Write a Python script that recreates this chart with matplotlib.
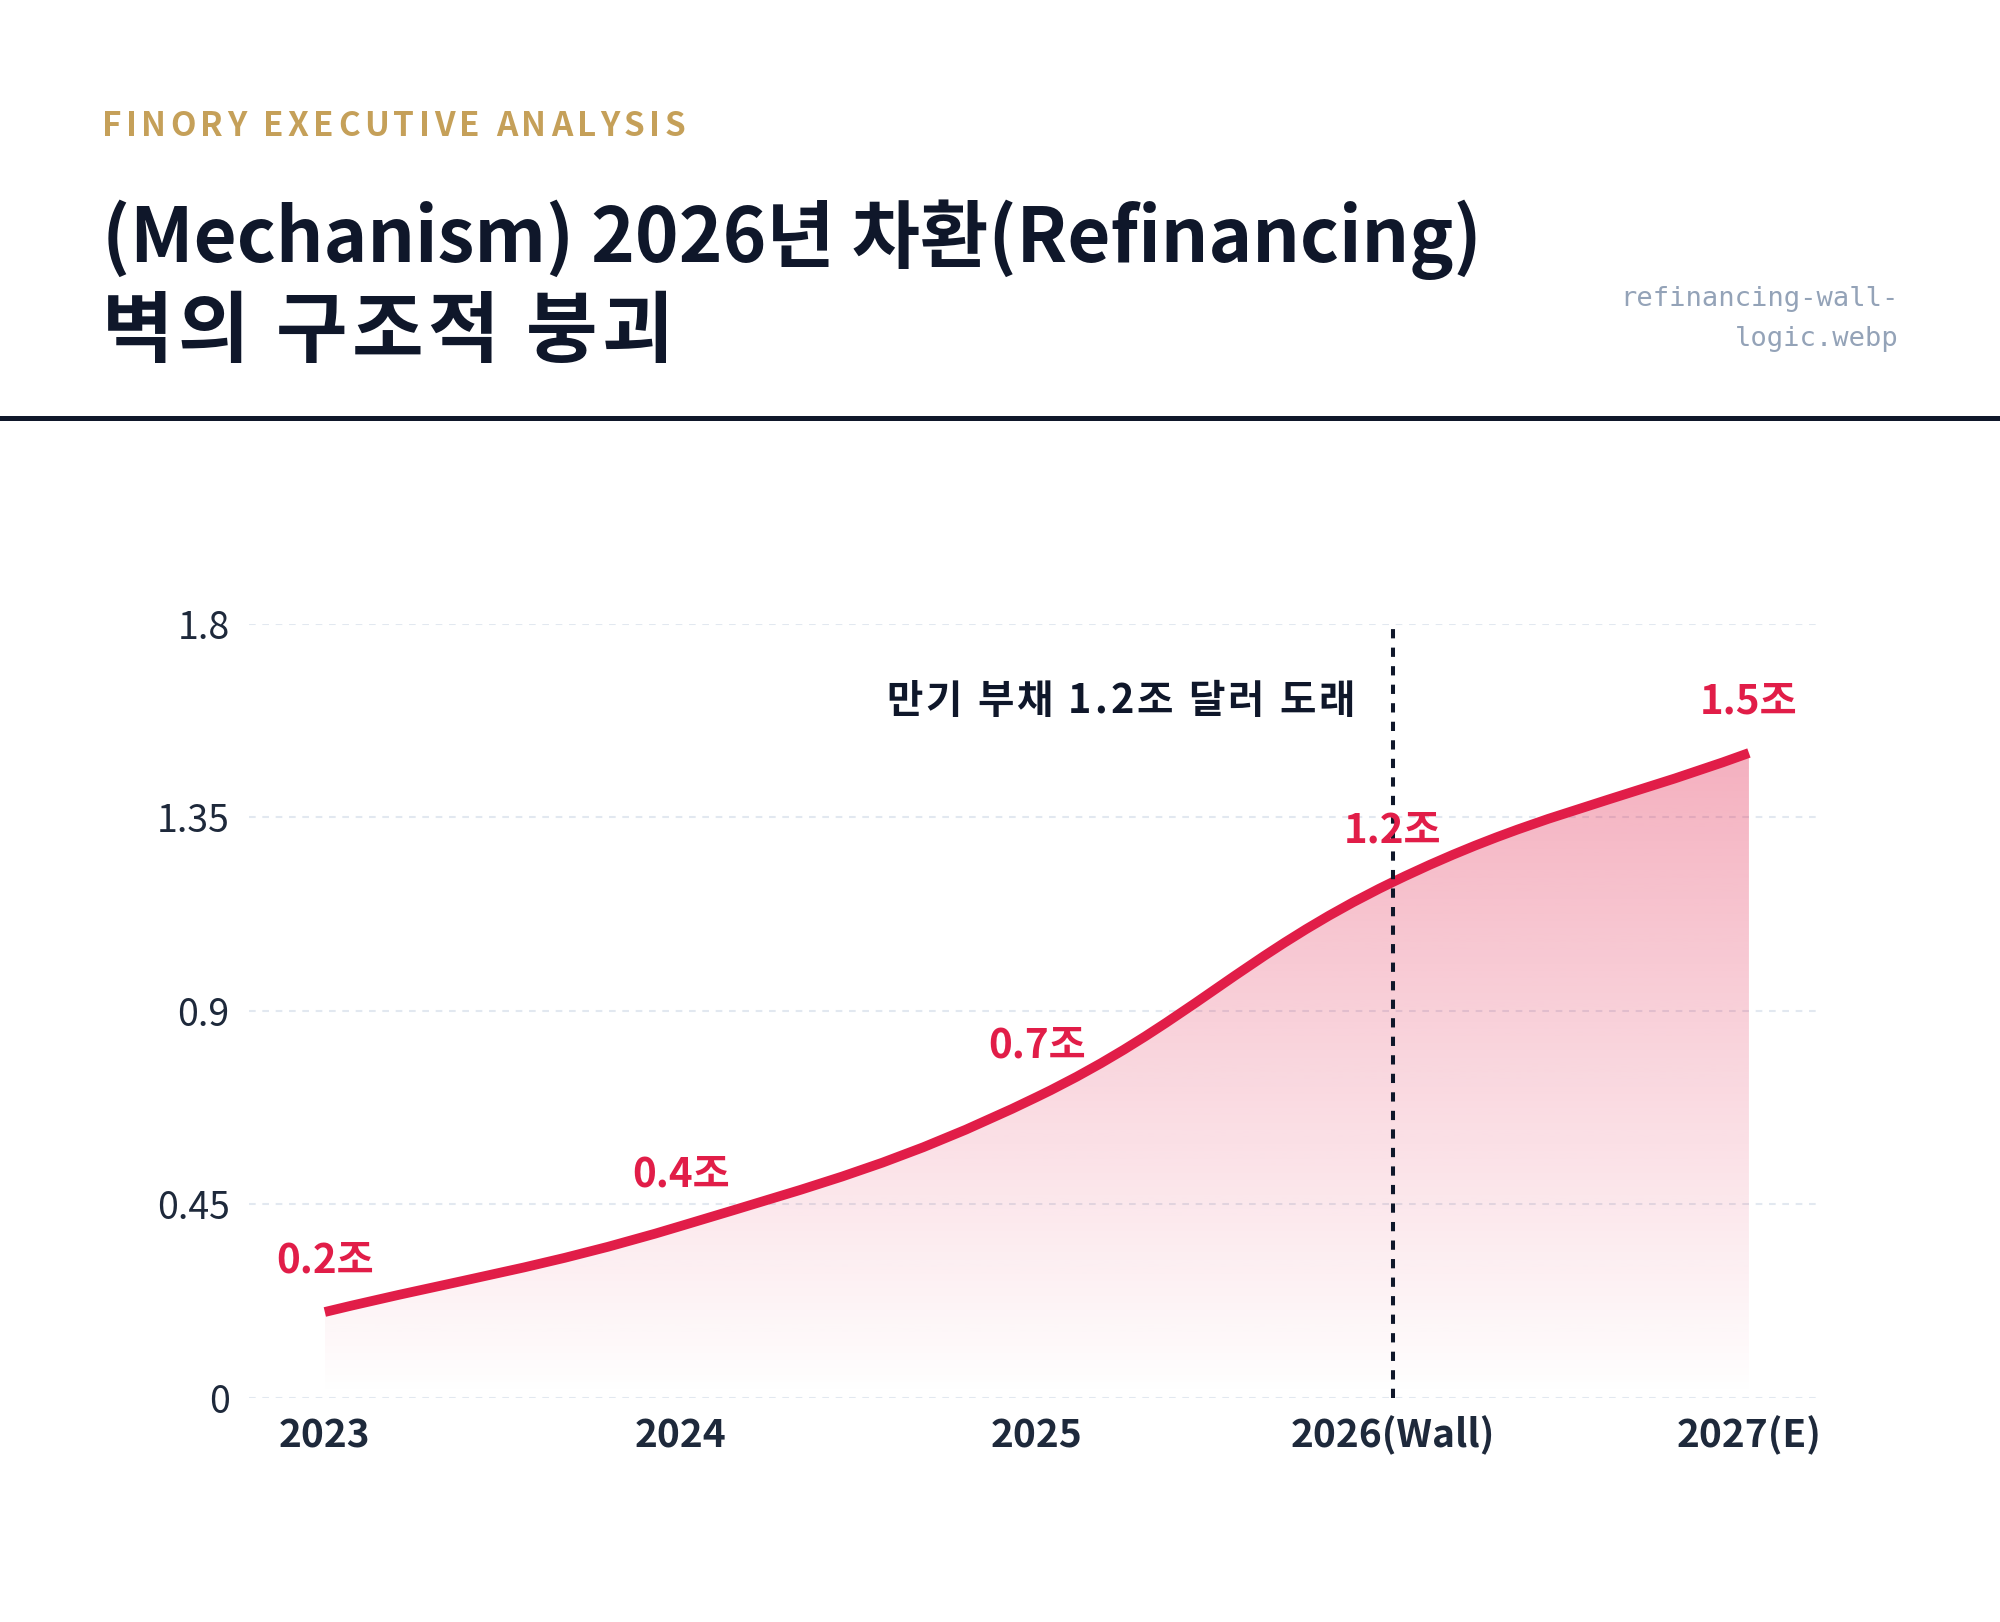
import numpy as np
import matplotlib
matplotlib.use("Agg")
import matplotlib.pyplot as plt
from matplotlib.path import Path
from matplotlib.patches import PathPatch

plt.rcParams['font.family'] = ['Noto Sans CJK KR', 'DejaVu Sans']

# ======== DATA ========
years = ["2023", "2024", "2025", "2026(Wall)", "2027(E)"]
debt = [0.2, 0.4, 0.7, 1.2, 1.5]
point_labels = ["0.2조", "0.4조", "0.7조", "1.2조", "1.5조"]
y_ticks = [0, 0.45, 0.9, 1.35, 1.8]
wall_index = 3
wall_note = "만기 부채 1.2조 달러 도래"

kicker = "FINORY EXECUTIVE ANALYSIS"
title_lines = ["(Mechanism) 2026년 차환(Refinancing)", "벽의 구조적 붕괴"]
file_tag = ["refinancing-wall-", "logic.webp"]

RED = "#E11D48"
NAVY = "#0F172A"
GOLD = "#C5A059"
W, H = 2000, 1622

fig = plt.figure(figsize=(W / 100, H / 100), dpi=100)
fig.patch.set_facecolor("white")
renderer = fig.canvas.get_renderer()


def text_width(s, **kw):
    t = fig.text(0, 0, s, **kw)
    w = t.get_window_extent(renderer).width
    t.remove()
    return w


def spaced_text(x_px, y, s, target_px, **kw):
    # letter-spaced text, stretched to a target width (pixels)
    bar = text_width("||", **kw)
    base = text_width("|" + s + "|", **kw) - bar
    gap = (target_px - base) / (len(s) - 1)
    for k, ch in enumerate(s):
        off = text_width("|" + s[:k] + "|", **kw) - bar if k else 0
        fig.text((x_px + off + k * gap) / W, y, ch, ha="left", va="baseline", **kw)


# ======== HEADER ========
spaced_text(102, 1 - 136 / H, kicker, 583, fontsize=24, fontweight="bold", color=GOLD)

fig.text(102 / W, 1 - 262 / H, title_lines[0], fontsize=53.5, fontweight="bold",
         color=NAVY, va="baseline", ha="left")
spaced_text(102, 1 - 356 / H, title_lines[1], 571, fontsize=56, fontweight="bold", color=NAVY)

fig.text(1899 / W, 1 - 306 / H, file_tag[0], fontsize=19.5, family="DejaVu Sans Mono",
         color="#94A3B8", ha="right", va="baseline")
fig.text(1899 / W, 1 - 346 / H, file_tag[1], fontsize=19.5, family="DejaVu Sans Mono",
         color="#94A3B8", ha="right", va="baseline")

fig.add_artist(plt.Line2D([0, 1], [1 - 418 / H, 1 - 418 / H], color=NAVY, lw=3.6,
                          transform=fig.transFigure))

# ======== PLOT ========
ax = fig.add_axes([0.1245, 0.1381, 0.7845, 0.4772])
ax.set_xlim(-0.213, 4.194)
ax.set_ylim(0, 1.8)
for sp in ax.spines.values():
    sp.set_visible(False)

ax.set_yticks(y_ticks)
ax.set_yticklabels([f"{v:g}" for v in y_ticks])
ax.set_xticks(range(len(years)))
ax.set_xticklabels(years)
ax.tick_params(axis="y", length=0, pad=14, labelsize=27, labelcolor="#1E293B")
ax.tick_params(axis="x", length=0, pad=13, labelsize=28, labelcolor="#1E293B")
for lab in ax.get_xticklabels():
    lab.set_fontweight("bold")
for lab in ax.get_yticklabels():
    lab.set_fontweight("light")
ax.grid(axis="y", color="#E2E8F0", lw=1.5, linestyle=(0, (3.2, 3.2)))
ax.set_axisbelow(True)

# smooth curve through the points (tension 0.4 spline, in pixel space)
xs = np.arange(len(debt), dtype=float)
pts = ax.transData.transform(np.column_stack([xs, debt]))
tension = 0.4
cps = []
for i in range(len(pts)):
    prev = pts[i - 1] if i > 0 else pts[i]
    nxt = pts[i + 1] if i < len(pts) - 1 else pts[i]
    d01 = np.hypot(*(pts[i] - prev))
    d12 = np.hypot(*(nxt - pts[i]))
    s01 = d01 / (d01 + d12)
    s12 = d12 / (d01 + d12)
    cps.append((pts[i] - tension * s01 * (nxt - prev), pts[i] + tension * s12 * (nxt - prev)))

verts = [pts[0]]
codes = [Path.MOVETO]
for i in range(len(pts) - 1):
    verts += [cps[i][1], cps[i + 1][0], pts[i + 1]]
    codes += [Path.CURVE4] * 3
inv = ax.transData.inverted()
curve_verts = inv.transform(np.array(verts))

line_path = Path(curve_verts, codes)
fill_verts = np.vstack([curve_verts, [[xs[-1], 0], [xs[0], 0], [xs[0], 0]]])
fill_codes = codes + [Path.LINETO, Path.LINETO, Path.CLOSEPOLY]
fill_patch = PathPatch(Path(fill_verts, fill_codes), facecolor="none", edgecolor="none")
ax.add_patch(fill_patch)

grad = np.zeros((256, 1, 4))
grad[..., 0] = 225 / 255
grad[..., 1] = 29 / 255
grad[..., 2] = 72 / 255
grad[..., 3] = np.linspace(0.42, 0.0, 256)[:, None]
img = ax.imshow(grad, extent=[xs[0], xs[-1], 0, 1.8], aspect="auto", origin="upper",
                zorder=1, interpolation="bilinear")
img.set_clip_path(fill_patch)
ax.set_xlim(-0.213, 4.194)
ax.set_ylim(0, 1.8)

ax.add_patch(PathPatch(line_path, facecolor="none", edgecolor=RED, lw=7,
                       capstyle="butt", zorder=3))

# 2026 wall marker
ax.axvline(wall_index, color=NAVY, lw=2.9, linestyle=(0, (2.3, 2.3)), zorder=4)
spaced_text(886, 1 - 713 / H, wall_note, 469, fontsize=28.5, fontweight="bold", color=NAVY)

for x, y, lab in zip(xs, debt, point_labels):
    ax.annotate(lab, (x, y), xytext=(0, 37), textcoords="offset points",
                ha="center", va="center", fontsize=29, fontweight="bold", color=RED, zorder=5)

plt.savefig("out.png", dpi=100, facecolor="white")
